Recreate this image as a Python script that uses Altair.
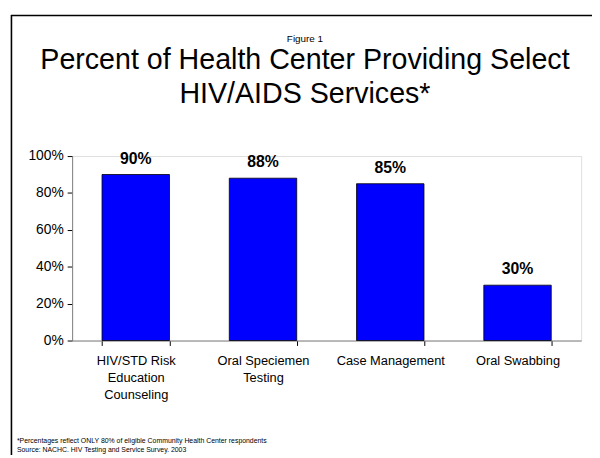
import altair as alt
import pandas as pd

# ---- data ----
categories = ["HIV/STD Risk\nEducation\nCounseling", "Oral Speciemen\nTesting",
              "Case Management", "Oral Swabbing"]
values = [0.90, 0.88, 0.85, 0.30]
y_ticks = [0, 0.2, 0.4, 0.6, 0.8, 1.0]
figure_label = ["Figure 1"]
title_lines = ["Percent of Health Center Providing Select\nHIV/AIDS Services*"]
footer_note = ["*Percentages reflect ONLY 80% of eligible Community Health Center respondents"]
footer_source = ["Source: NACHC. HIV Testing and Service Survey. 2003"]

df = pd.DataFrame({"cat": categories, "val": values})

FONT = "Liberation Sans"
OX, OY = 73, 155  # page position of the plot origin

x_enc = alt.X("cat:N", sort=categories, title=None,
              scale=alt.Scale(paddingInner=0.47, paddingOuter=0.235),
              axis=alt.Axis(labelAngle=0, labelExpr="split(datum.label, '\\n')",
                            labelFont=FONT, labelFontSize=13, labelLineHeight=17.5,
                            labelColor="black", labelPadding=9, labelBaseline="top",
                            tickBand="extent", tickSize=5, tickColor="black",
                            domainColor="#808080", labelLimit=200, labelOverlap=False))
y_enc = alt.Y("val:Q", title=None,
              scale=alt.Scale(domain=[0, 1], nice=False),
              axis=alt.Axis(values=y_ticks, format=".0%", grid=False,
                            labelFont=FONT, labelFontSize=14, labelColor="black",
                            labelPadding=4, tickSize=5, tickColor="black",
                            domainColor="#808080", labelOverlap=False, labelFlush=False))

base = alt.Chart(df).encode(x=x_enc, y=y_enc)
bars = base.mark_bar(color="#0000FF", stroke="black", strokeWidth=0.8)
labels = base.mark_text(font=FONT, fontSize=16, fontWeight="bold", dy=-11,
                        baseline="alphabetic", color="black").encode(
    text=alt.Text("val:Q", format=".0%"))
main = alt.layer(bars, labels)

fig = alt.Chart(pd.DataFrame({"t": figure_label})).mark_text(
    font=FONT, fontSize=10, align="center", baseline="alphabetic", color="black"
).encode(x=alt.value(309 - OX), y=alt.value(39 - OY), text="t:N")

title = alt.Chart(pd.DataFrame({"t": title_lines})).mark_text(
    font=FONT, fontSize=29, align="center", baseline="alphabetic", lineBreak="\n",
    lineHeight=34, color="black"
).encode(x=alt.value(309 - OX), y=alt.value(67 - OY), text="t:N")

note = alt.Chart(pd.DataFrame({"t": footer_note})).mark_text(
    font=FONT, fontSize=7, align="left", baseline="alphabetic", color="black"
).encode(x=alt.value(17 - OX), y=alt.value(446 - OY), text="t:N")

source = alt.Chart(pd.DataFrame({"t": footer_source})).mark_text(
    font=FONT, fontSize=7, align="left", baseline="alphabetic", color="black"
).encode(x=alt.value(17 - OX), y=alt.value(455 - OY), text="t:N")

frame_top = alt.Chart(pd.DataFrame({"k": [0]})).mark_rule(color="black", strokeWidth=1.6).encode(
    x=alt.value(11 - OX), x2=alt.value(600 - OX), y=alt.value(12.5 - OY))
frame_left = alt.Chart(pd.DataFrame({"k": [0]})).mark_rule(color="black", strokeWidth=1.6).encode(
    x=alt.value(11.5 - OX), y=alt.value(12 - OY), y2=alt.value(458 - OY))

chart = alt.layer(main, fig, title, note, source, frame_top, frame_left).properties(
    width=516, height=187,
    autosize=alt.AutoSizeParams(type="none"),
    padding={"left": 65, "top": 147, "right": 11, "bottom": 116},
).configure_view(strokeWidth=0, stroke="transparent").configure(background="white")

chart.save("out.html", embed_options={"renderer": "svg", "actions": False})
